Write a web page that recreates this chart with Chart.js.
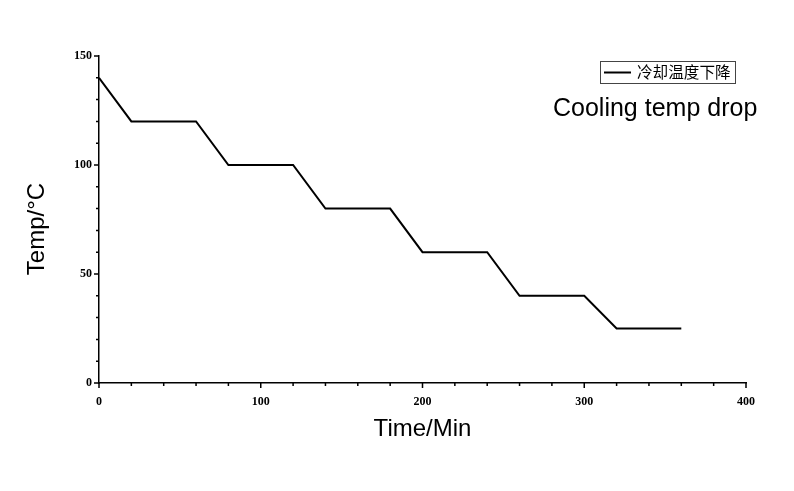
<!DOCTYPE html>
<html>
<head>
<meta charset="utf-8">
<script src="https://cdn.jsdelivr.net/npm/chart.js@4/dist/chart.umd.min.js"></script>
<style>
  html, body { margin: 0; padding: 0; background: #fff; }
  #wrap { width: 794px; height: 491px; }
</style>
</head>
<body>
<div id="wrap"><canvas id="coolChart" width="794" height="491"></canvas></div>
<script>
// time (min) and temperature (°C)
const timeMin = [0, 20, 60, 80, 120, 140, 180, 200, 240, 260, 300, 320, 360];
const tempC   = [140, 120, 120, 100, 100, 80, 80, 60, 60, 40, 40, 25, 25];
const seriesLabel = '冷却温度下降';
const noteText = 'Cooling temp drop';
const xTitle = 'Time/Min';
const yTitle = 'Temp/°C';

// axis ranges / ticks
const xRange = [0, 400];
const yRange = [0, 150];
const xStep = 20, xLabelEvery = 100;
const yStep = 10, yLabelEvery = 50;

const tickFont = { family: 'Liberation Serif', size: 12, weight: 'bold' };

// draws the major/minor tick marks, y title, the legend box and the note
const decorPlugin = {
    id: 'decor',
    afterDraw(chart) {
        const ctx = chart.ctx;
        const xs = chart.scales.x, ys = chart.scales.y;
        ctx.save();
        ctx.strokeStyle = '#000';
        ctx.lineWidth = 1.5;
        ctx.beginPath();
        xs.ticks.forEach(t => {
            const px = xs.getPixelForValue(t.value);
            const len = (t.value % xLabelEvery === 0) ? 5 : 3;
            ctx.moveTo(px, xs.top);
            ctx.lineTo(px, xs.top + len);
        });
        ys.ticks.forEach(t => {
            const py = ys.getPixelForValue(t.value);
            const len = (t.value % yLabelEvery === 0) ? 5 : 3;
            ctx.moveTo(ys.right, py);
            ctx.lineTo(ys.right - len, py);
        });
        ctx.stroke();

        // y axis title (sits a bit below the plot centre in the original)
        ctx.fillStyle = '#000';
        ctx.font = '24px "Liberation Sans"';
        ctx.textAlign = 'center';
        ctx.textBaseline = 'middle';
        ctx.translate(37, 229);
        ctx.rotate(-Math.PI / 2);
        ctx.fillText(yTitle, 0, 0);
        ctx.setTransform(1, 0, 0, 1, 0, 0);

        // legend box
        const ds = chart.data.datasets[0];
        ctx.lineWidth = 1;
        ctx.strokeStyle = '#444';
        ctx.strokeRect(600.5, 61.5, 135, 22);
        ctx.strokeStyle = ds.borderColor;
        ctx.lineWidth = 2;
        ctx.beginPath();
        ctx.moveTo(604, 72.5);
        ctx.lineTo(631, 72.5);
        ctx.stroke();
        ctx.font = '15.6px "Noto Sans CJK SC"';
        ctx.textAlign = 'left';
        ctx.fillText(ds.label, 637, 72.5);

        // note text
        ctx.font = '25px "Liberation Sans"';
        ctx.fillText(noteText, 553, 109);
        ctx.restore();
    }
};

const ctx = document.getElementById('coolChart').getContext('2d');
new Chart(ctx, {
    type: 'line',
    data: {
        datasets: [{
            label: seriesLabel,
            data: timeMin.map((t, i) => ({ x: t, y: tempC[i] })),
            borderColor: '#000',
            borderWidth: 2,
            pointRadius: 0,
            tension: 0,
            fill: false
        }]
    },
    options: {
        responsive: false,
        animation: false,
        layout: { padding: { top: 56, right: 48, left: 0, bottom: 0 } },
        plugins: {
            legend: { display: false },
            tooltip: { enabled: false }
        },
        scales: {
            x: {
                type: 'linear',
                min: xRange[0],
                max: xRange[1],
                grid: { display: false, drawTicks: true, tickLength: 5 },
                border: { display: true, color: '#000', width: 1.5 },
                ticks: {
                    stepSize: xStep,
                    autoSkip: false,
                    maxRotation: 0,
                    padding: 7,
                    color: '#000',
                    font: tickFont,
                    callback: v => (v % xLabelEvery === 0 ? v : '')
                },
                title: {
                    display: true,
                    text: xTitle,
                    color: '#000',
                    font: { family: 'Liberation Sans', size: 24 },
                    padding: { top: 0, bottom: 47 }
                },
                afterFit(scale) { scale.height = 108; }
            },
            y: {
                min: yRange[0],
                max: yRange[1],
                grid: { display: false, drawTicks: true, tickLength: 5 },
                border: { display: true, color: '#000', width: 1.5 },
                ticks: {
                    stepSize: yStep,
                    autoSkip: false,
                    padding: 2,
                    color: '#000',
                    font: tickFont,
                    callback: v => (v % yLabelEvery === 0 ? v : '')
                },
                title: { display: false },
                afterFit(scale) { scale.width = 99; }
            }
        }
    },
    plugins: [decorPlugin]
});
</script>
</body>
</html>
